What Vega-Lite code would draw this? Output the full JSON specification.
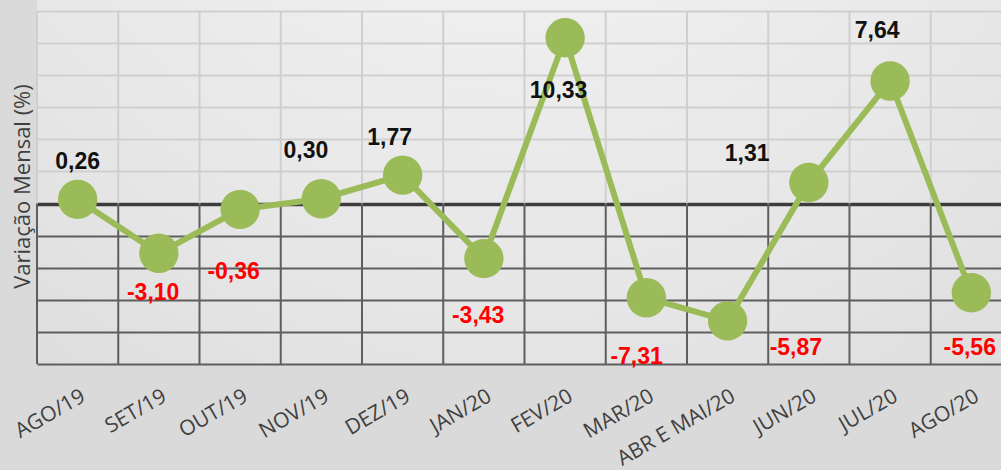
{
  "$schema": "https://vega.github.io/schema/vega-lite/v6.json",
  "width": 964,
  "height": 364,
  "autosize": {"type": "none"},
  "padding": {"left": 37, "top": 0, "right": 0, "bottom": 106},
  "background": "#dadada",
  "view": {
    "stroke": null,
    "fill": {
      "gradient": "radial", "x1": 0.5, "y1": 0, "r1": 0, "x2": 0.5, "y2": 0, "r2": 1.15,
      "stops": [
        {"offset": 0, "color": "#f7f7f7"},
        {"offset": 0.55, "color": "#e6e6e6"},
        {"offset": 1, "color": "#d3d3d3"}
      ]
    }
  },
  "datasets": {
    "meses": [
      {"i": 0, "mes": "AGO/19", "v": 0.26},
      {"i": 1, "mes": "SET/19", "v": -3.10},
      {"i": 2, "mes": "OUT/19", "v": -0.36},
      {"i": 3, "mes": "NOV/19", "v": 0.30},
      {"i": 4, "mes": "DEZ/19", "v": 1.77},
      {"i": 5, "mes": "JAN/20", "v": -3.43},
      {"i": 6, "mes": "FEV/20", "v": 10.33},
      {"i": 7, "mes": "MAR/20", "v": -5.87},
      {"i": 8, "mes": "ABR E MAI/20", "v": -7.31},
      {"i": 9, "mes": "JUN/20", "v": 1.31},
      {"i": 10, "mes": "JUL/20", "v": 7.64},
      {"i": 11, "mes": "AGO/20", "v": -5.56}
    ],
    "rotulos": [
      {"x": 0.0, "y": 2.6, "t": "0,26"},
      {"x": 0.93, "y": -5.6, "t": "-3,10"},
      {"x": 1.92, "y": -4.25, "t": "-0,36"},
      {"x": 2.81, "y": 3.25, "t": "0,30"},
      {"x": 3.84, "y": 4.1, "t": "1,77"},
      {"x": 4.93, "y": -7.0, "t": "-3,43"},
      {"x": 5.92, "y": 7.0, "t": "10,33"},
      {"x": 6.88, "y": -9.55, "t": "-7,31"},
      {"x": 8.84, "y": -9.0, "t": "-5,87"},
      {"x": 8.24, "y": 3.06, "t": "1,31"},
      {"x": 9.84, "y": 10.75, "t": "7,64"},
      {"x": 10.98, "y": -9.0, "t": "-5,56"}
    ],
    "limites": [
      {"b": -0.5}, {"b": 0.5}, {"b": 1.5}, {"b": 2.5}, {"b": 3.5}, {"b": 4.5},
      {"b": 5.5}, {"b": 6.5}, {"b": 7.5}, {"b": 8.5}, {"b": 9.5}, {"b": 10.5}
    ]
  },
  "layer": [
    {
      "data": {"name": "limites"},
      "mark": {"type": "rule", "color": "#cfcfcf", "strokeWidth": 2},
      "encoding": {
        "x": {
          "field": "b", "type": "quantitative",
          "scale": {"domain": [-0.5, 11.365], "nice": false, "zero": false},
          "axis": null
        },
        "y": {
          "datum": 12, "type": "quantitative",
          "scale": {"domain": [-10, 12.686], "nice": false, "zero": false},
          "axis": {
            "values": [-10, -8, -6, -4, -2, 0, 2, 4, 6, 8, 10, 12],
            "grid": true,
            "gridColor": {"condition": [
              {"test": "datum.value == 0", "value": "#3c3c3c"},
              {"test": "datum.value < 0", "value": "#5e5e5e"}
            ], "value": "#cfcfcf"},
            "gridWidth": {"condition": {"test": "datum.value == 0", "value": 3.5}, "value": 2},
            "labels": false, "ticks": false, "domain": false,
            "title": "Variação Mensal (%)",
            "titleFont": "Open Sans", "titleFontSize": 22, "titleFontWeight": "normal",
            "titleColor": "#404040", "titlePadding": 3, "titleY": 186
          }
        },
        "y2": {"datum": 0}
      }
    },
    {
      "data": {"name": "limites"},
      "mark": {"type": "rule", "color": "#5e5e5e", "strokeWidth": 2},
      "encoding": {
        "x": {"field": "b", "type": "quantitative", "axis": null},
        "y": {"datum": 0, "type": "quantitative", "axis": null},
        "y2": {"datum": -10}
      }
    },
    {
      "data": {"name": "meses"},
      "mark": {"type": "line", "color": "#9bbb59", "strokeWidth": 6},
      "encoding": {
        "x": {
          "field": "i", "type": "quantitative",
          "axis": {
            "orient": "bottom", "values": [0, 1, 2, 3, 4, 5, 6, 7, 8, 9, 10, 11],
            "labelExpr": "['AGO/19','SET/19','OUT/19','NOV/19','DEZ/19','JAN/20','FEV/20','MAR/20','ABR E MAI/20','JUN/20','JUL/20','AGO/20'][datum.value]",
            "labelAngle": -30, "labelAlign": "right", "labelBaseline": "top",
            "labelFont": "Open Sans", "labelFontSize": 21, "labelColor": "#404040",
            "labelPadding": 21, "labelOverlap": false, "labelBound": false, "labelFlush": false,
            "grid": false, "ticks": false, "domain": false, "title": null
          }
        },
        "y": {"field": "v", "type": "quantitative", "axis": null}
      }
    },
    {
      "data": {"name": "meses"},
      "mark": {"type": "circle", "color": "#9bbb59", "opacity": 1, "size": 1550},
      "encoding": {
        "x": {"field": "i", "type": "quantitative", "axis": null},
        "y": {"field": "v", "type": "quantitative", "axis": null}
      }
    },
    {
      "data": {"name": "rotulos"},
      "mark": {"type": "text", "font": "Liberation Sans", "fontSize": 23, "fontWeight": "bold", "align": "center", "baseline": "middle"},
      "encoding": {
        "x": {"field": "x", "type": "quantitative", "axis": null},
        "y": {"field": "y", "type": "quantitative", "axis": null},
        "text": {"field": "t"},
        "color": {
          "condition": {"test": "indexof(datum.t, '-') == 0", "value": "#ff0000"},
          "value": "#111111"
        }
      }
    }
  ],
  "resolve": {"axis": {"x": "independent", "y": "independent"}}
}
